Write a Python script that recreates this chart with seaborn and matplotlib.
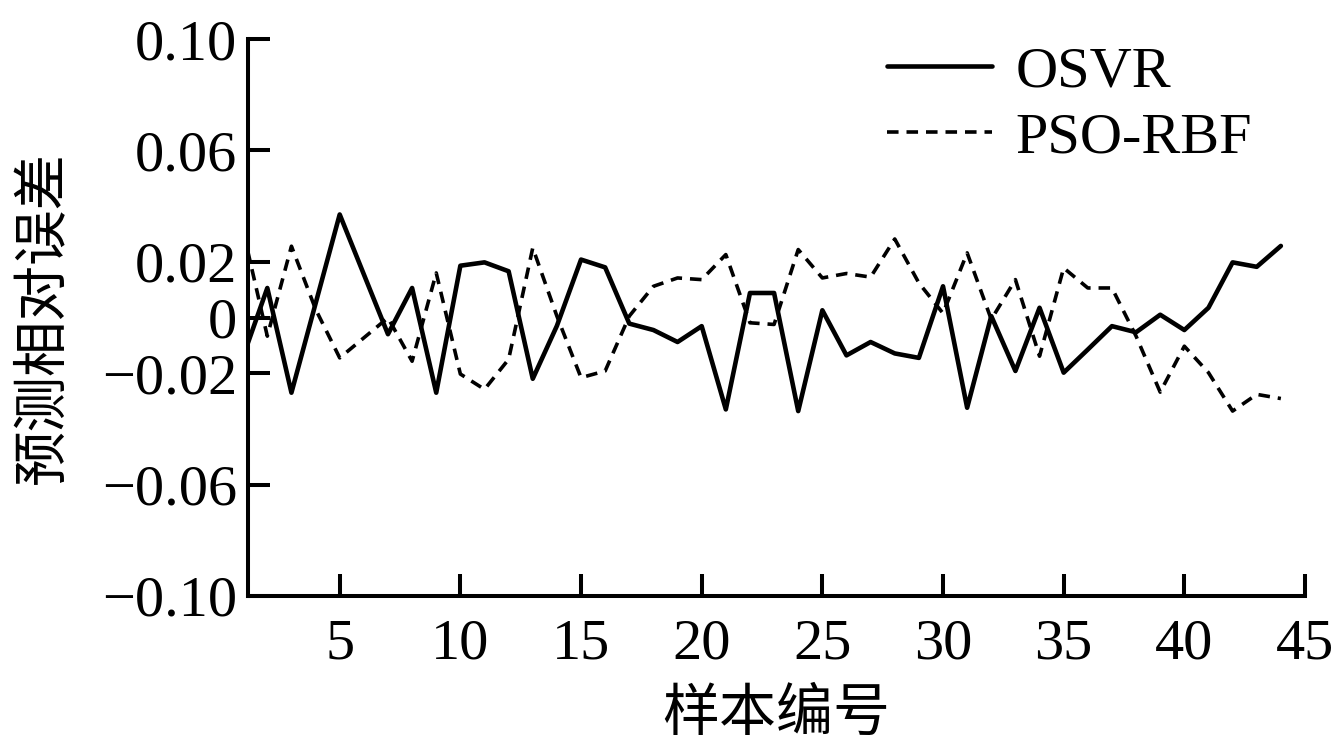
import numpy as np
import pandas as pd
import matplotlib
matplotlib.use("Agg")
import matplotlib.pyplot as plt
import seaborn as sns

# ── Data ──────────────────────────────────────────────────────────────────────
SAMPLES = list(range(1, 45))
OSVR = [
    -0.014, 0.0106, -0.027, 0.005, 0.037, 0.0155, -0.006, 0.0106, -0.027, 0.0186,
    0.0198, 0.0166, -0.022, -0.003, 0.0208, 0.018, -0.0022, -0.0045, -0.0088, -0.0031,
    -0.033, 0.0088, 0.0088, -0.0336, 0.0026, -0.0136, -0.0088, -0.0129, -0.0145, 0.0112,
    -0.0324, 0.0005, -0.0192, 0.0035, -0.0198, -0.0115, -0.0031, -0.0053, 0.001, -0.0045,
    0.0035, 0.0198, 0.0182, 0.0257,
]
PSO_RBF = [
    0.031, -0.0067, 0.0256, 0.003, -0.0145, -0.0073, -0.0001, -0.0157, 0.016, -0.0203,
    -0.0258, -0.015, 0.025, 0.0005, -0.0216, -0.0192, 0.0005, 0.0112, 0.0142, 0.0136,
    0.0226, -0.0019, -0.0025, 0.0244, 0.0142, 0.0158, 0.0145, 0.0282, 0.0124, 0.0015,
    0.0232, -0.0007, 0.0136, -0.0139, 0.0178, 0.0106, 0.0106, -0.0067, -0.0268, -0.0103,
    -0.0198, -0.0336, -0.0276, -0.0291,
]
SERIES_NAMES = ["OSVR", "PSO-RBF"]
X_TICKS = [5, 10, 15, 20, 25, 30, 35, 40, 45]
Y_TICKS = [-0.10, -0.06, -0.02, 0.0, 0.02, 0.06, 0.10]
Y_TICK_LABELS = ["\u22120.10", "\u22120.06", "\u22120.02", "0", "0.02", "0.06", "0.10"]
X_LABEL = "样本编号"
Y_LABEL = "预测相对误差"

df = pd.DataFrame({
    "sample": SAMPLES * 2,
    "error": OSVR + PSO_RBF,
    "series": [SERIES_NAMES[0]] * len(OSVR) + [SERIES_NAMES[1]] * len(PSO_RBF),
})

# ── Style ─────────────────────────────────────────────────────────────────────
sns.set_style("ticks")
plt.rcParams["font.family"] = ["Liberation Serif", "Noto Sans CJK SC"]
plt.rcParams["axes.unicode_minus"] = True
for key in ["text.color", "axes.labelcolor", "xtick.color", "ytick.color", "axes.edgecolor"]:
    plt.rcParams[key] = "black"

fig = plt.figure(figsize=(13.35, 7.54), dpi=100)
ax = fig.add_axes([248 / 1335, 1 - 596 / 754, (1305 - 248) / 1335, (596 - 39) / 754])

sns.lineplot(
    data=df, x="sample", y="error",
    hue="series", style="series", size="series",
    palette={"OSVR": "black", "PSO-RBF": "black"},
    dashes={"OSVR": "", "PSO-RBF": (3.2, 2.2)},
    sizes={"OSVR": 3.3, "PSO-RBF": 2.6},
    legend=False, ax=ax,
)

ax.set_xlim(1.2, 45)
ax.set_ylim(-0.10, 0.10)
ax.set_xticks(X_TICKS)
ax.set_yticks(Y_TICKS)
ax.set_yticklabels(Y_TICK_LABELS)
ax.tick_params(direction="in", length=16, width=2.9, labelsize=42, color="black",
               labelcolor="black")
ax.tick_params(axis="x", pad=16)
ax.tick_params(axis="y", pad=8)
for side in ["top", "right"]:
    ax.spines[side].set_visible(False)
for side in ["left", "bottom"]:
    ax.spines[side].set_linewidth(2.9)
    ax.spines[side].set_color("black")

ax.set_xlabel(X_LABEL, fontsize=41, family="Noto Sans CJK SC", labelpad=10, color="black")
ax.set_ylabel(Y_LABEL, fontsize=40, family="Noto Sans CJK SC", labelpad=22, color="black")

ax.legend(
    ax.lines[:2], SERIES_NAMES,
    loc="upper left", bbox_to_anchor=(887 / 1335, 1 - 46 / 754),
    bbox_transform=fig.transFigure, frameon=False, fontsize=42,
    borderpad=0, borderaxespad=0, handlelength=1.8, handletextpad=0.4,
    labelspacing=0.22,
)

plt.savefig("out.png", dpi=100)
plt.close()
